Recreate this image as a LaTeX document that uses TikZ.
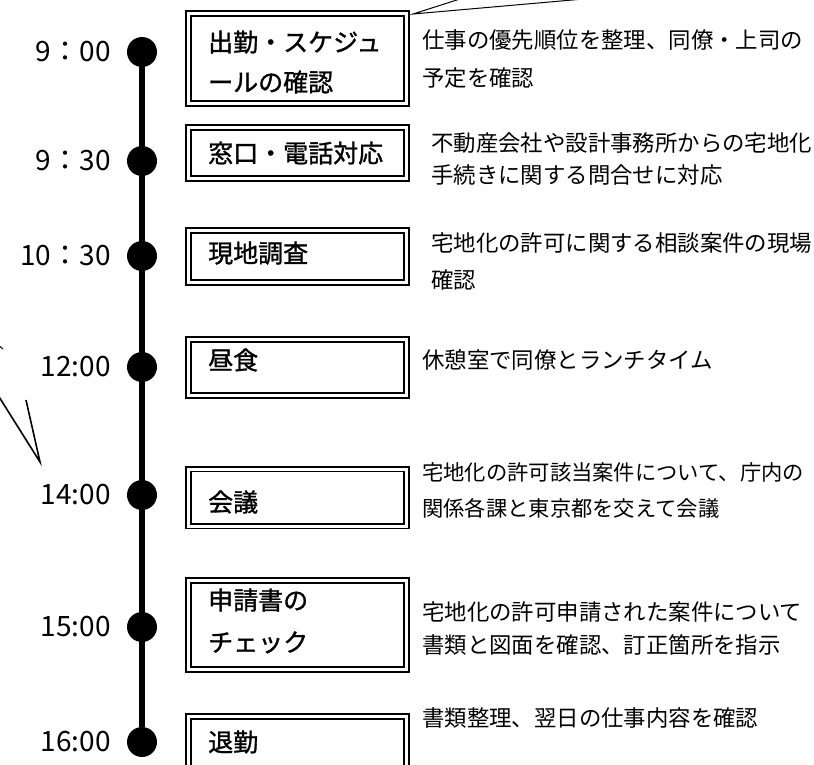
\documentclass[tikz,border=0pt]{standalone}
\usepackage{fontspec}
\setmainfont{Noto Sans CJK JP}
\newfontfamily\taskfont[FakeBold=1.2]{Noto Sans CJK JP}
\usetikzlibrary{positioning}

\begin{document}
\begin{tikzpicture}[x=1pt, y=-1pt,
    dot/.style={circle, fill=black, minimum size=30pt, inner sep=0pt},
    time/.style={font=\fontsize{28}{30}\selectfont, inner sep=0pt},
    box/.style={draw, double, line width=1.9pt, double distance=3pt, minimum width=218pt, inner sep=0pt},
    task/.style={font=\taskfont\fontsize{25}{40}\selectfont, inner sep=0pt, anchor=west, align=left},
    memo/.style={font=\fontsize{22.4}{35}\selectfont, inner sep=0pt, anchor=west, align=left}]

\useasboundingbox (0,0) rectangle (814,764);
\clip (0,0) rectangle (814,764);

% Zeitachse
\node[dot] (d1) at (142,52) {};
\node[dot] (d2) at (142,161) {};
\node[dot] (d3) at (142,256) {};
\node[dot] (d4) at (142,367) {};
\node[dot] (d5) at (142,495) {};
\node[dot] (d6) at (142,627) {};
\node[dot] (d7) at (142,742) {};
\draw[line width=6pt] (d1) -- (d7);

% Uhrzeiten
\node[time, left=16pt of d1] (t1) {9：00};
\node[time, left=16pt of d2] (t2) {9：30};
\node[time, left=16pt of d3] (t3) {10：30};
\node[time, left=16pt of d4] (t4) {12:00};
\node[time, left=16pt of d5] (t5) {14:00};
\node[time, left=16pt of d6] (t6) {15:00};
\node[time, left=16pt of d7] (t7) {16:00};

% Kaesten
\node[box, minimum height=90pt] (b1) at (297.5,58.5) {};
\node[box, minimum height=51pt] (b2) at (297.5,153) {};
\node[box, minimum height=52pt] (b3) at (297.5,256.5) {};
\node[box, minimum height=56pt] (b4) at (297.5,367.5) {};
\node[box, minimum height=57pt] (b5) at (297.5,497.5) {};
\node[box, minimum height=89pt] (b6) at (297.5,625) {};
\node[box, minimum height=57pt] (b7) at (297.5,745) {};

\node[task] (a1) at (208,62) {出勤・スケジュ\\ールの確認};
\node[task] (a2) at (208,153) {窓口・電話対応};
\node[task] (a3) at (208,253) {現地調査};
\node[task] (a4) at (208,360) {昼食};
\node[task] (a5) at (208,502) {会議};
\node[task] (a6) at (208,621) {申請書の\\[2pt]チェック};
\node[task] (a7) at (208,742) {退勤};

% Erlaeuterungen
\node[memo] (m1) at (422,59) {仕事の優先順位を整理、同僚・上司の\\[3pt]予定を確認};
\node[memo] (m2) at (431,159) {不動産会社や設計事務所からの宅地化\\[-3pt]手続きに関する問合せに対応};
\node[memo] (m3) at (431,261.5) {宅地化の許可に関する相談案件の現場\\[2pt]確認};
\node[memo] (m4) at (422,360) {休憩室で同僚とランチタイム};
\node[memo, font=\fontsize{21.3}{35}\selectfont] (m5) at (422,490) {宅地化の許可該当案件について、庁内の\\[1pt]関係各課と東京都を交えて会議};
\node[memo] (m6) at (422,628) {宅地化の許可申請された案件について\\[-2pt]書類と図面を確認、訂正箇所を指示};
\node[memo] (m7) at (422,718) {書類整理、翌日の仕事内容を確認};

% Sprechblasen (angeschnitten)
\coordinate (tipA) at (413,14);
\draw[line width=1pt] (488,-10) -- (tipA) -- (686,-10);
\coordinate (tipB) at (40,462);
\draw[line width=1.6pt] (-4,392) -- (tipB) -- (26,400);
\draw[line width=1pt] (-3,344) -- (3,349);
\end{tikzpicture}
\end{document}
